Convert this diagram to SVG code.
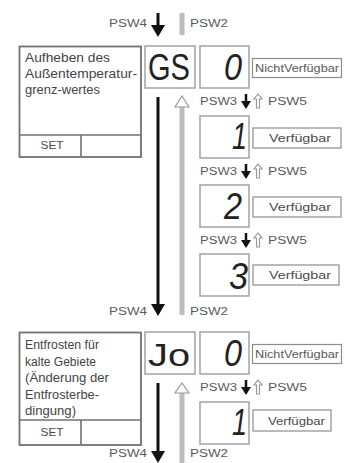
<svg xmlns="http://www.w3.org/2000/svg" width="345" height="463" viewBox="0 0 345 463">
<style>
.lbox{fill:#fff;stroke:#707070;stroke-width:1.8}
.ln{stroke:#707070;stroke-width:1.6}
.dbox{fill:#fff;stroke:#a8a8a8;stroke-width:1.6}
.vbox{fill:#fff;stroke:#8c8c8c;stroke-width:1.2}
.t{font-family:"Liberation Sans",Arial,sans-serif;fill:#444}
.desc{font-size:12.5px}
.sm{font-size:10px;fill:#5a5a5a}
.lab{font-size:10.5px;fill:#4a4a4a}
.seg{font-family:"Liberation Sans",Arial,sans-serif;font-size:37px;fill:#222}
.it{font-style:italic}
.blk{stroke:#111;stroke-width:3;fill:none}
.blks{stroke:#111;stroke-width:2.5;fill:none}
.gry{stroke:#bdbdbd;stroke-width:5;fill:none}
.hol{fill:#fff;stroke:#999;stroke-width:1.2}
</style>
<defs>
<marker id="bh" markerUnits="userSpaceOnUse" markerWidth="12" markerHeight="14" refX="9" refY="7" orient="auto">
<path d="M0,0 L12,7 L0,14 z" fill="#111"/>
</marker>
<marker id="bhs" markerUnits="userSpaceOnUse" markerWidth="8" markerHeight="10" refX="5.5" refY="5" orient="auto">
<path d="M0,0 L8,5 L0,10 z" fill="#111"/>
</marker>
</defs>

<g id="connectors">
<line class="blk" x1="158" y1="13" x2="158" y2="34" marker-end="url(#bh)"/>
<line class="gry" x1="182" y1="13" x2="182" y2="35"/>
<text class="t sm" x="147" y="27" text-anchor="end" textLength="38" lengthAdjust="spacingAndGlyphs">PSW4</text>
<text class="t sm" x="190" y="27" textLength="38" lengthAdjust="spacingAndGlyphs">PSW2</text>
<line class="blk" x1="158" y1="97" x2="158" y2="313" marker-end="url(#bh)"/>
<line class="gry" x1="182" y1="107" x2="182" y2="315"/>
<polygon class="hol" points="182,96 175,107 189,107"/>
<text class="t sm" x="147" y="315" text-anchor="end" textLength="38" lengthAdjust="spacingAndGlyphs">PSW4</text>
<text class="t sm" x="190" y="315" textLength="38" lengthAdjust="spacingAndGlyphs">PSW2</text>
<line class="blk" x1="158" y1="383" x2="158" y2="460" marker-end="url(#bh)"/>
<line class="gry" x1="182" y1="393" x2="182" y2="463"/>
<polygon class="hol" points="182,383 175,393 189,393"/>
<text class="t sm" x="147" y="457" text-anchor="end" textLength="38" lengthAdjust="spacingAndGlyphs">PSW4</text>
<text class="t sm" x="190" y="457" textLength="38" lengthAdjust="spacingAndGlyphs">PSW2</text>
<g id="row1">
<text class="t sm" x="200" y="104.5" textLength="37" lengthAdjust="spacingAndGlyphs">PSW3</text>
<line class="blks" x1="246" y1="94" x2="246" y2="106.5" marker-end="url(#bhs)"/>
<polygon class="hol" points="258,94 254,99 256.5,99 256.5,108 259.5,108 259.5,99 262,99"/>
<text class="t sm" x="268" y="104.5" textLength="39" lengthAdjust="spacingAndGlyphs">PSW5</text>
</g>
<g id="row2">
<text class="t sm" x="200" y="174.5" textLength="37" lengthAdjust="spacingAndGlyphs">PSW3</text>
<line class="blks" x1="246" y1="164" x2="246" y2="176.5" marker-end="url(#bhs)"/>
<polygon class="hol" points="258,164 254,169 256.5,169 256.5,178 259.5,178 259.5,169 262,169"/>
<text class="t sm" x="268" y="174.5" textLength="39" lengthAdjust="spacingAndGlyphs">PSW5</text>
</g>
<g id="row3">
<text class="t sm" x="200" y="243.5" textLength="37" lengthAdjust="spacingAndGlyphs">PSW3</text>
<line class="blks" x1="246" y1="233" x2="246" y2="245.5" marker-end="url(#bhs)"/>
<polygon class="hol" points="258,233 254,238 256.5,238 256.5,247 259.5,247 259.5,238 262,238"/>
<text class="t sm" x="268" y="243.5" textLength="39" lengthAdjust="spacingAndGlyphs">PSW5</text>
</g>
<g id="row4">
<text class="t sm" x="200" y="390.5" textLength="37" lengthAdjust="spacingAndGlyphs">PSW3</text>
<line class="blks" x1="246" y1="380" x2="246" y2="392.5" marker-end="url(#bhs)"/>
<polygon class="hol" points="258,380 254,385 256.5,385 256.5,394 259.5,394 259.5,385 262,385"/>
<text class="t sm" x="268" y="390.5" textLength="39" lengthAdjust="spacingAndGlyphs">PSW5</text>
</g>
</g>

<g id="descGS">
<rect class="lbox" x="19.5" y="46.5" width="121.5" height="110.5"/>
<line class="ln" x1="19.5" y1="135" x2="141" y2="135"/>
<line class="ln" x1="81" y1="135" x2="81" y2="157"/>
<text class="t desc" x="25" y="62" textLength="85" lengthAdjust="spacingAndGlyphs">Aufheben des</text>
<text class="t desc" x="25" y="78" textLength="112" lengthAdjust="spacingAndGlyphs">Außentemperatur-</text>
<text class="t desc" x="25" y="94" textLength="75" lengthAdjust="spacingAndGlyphs">grenz-wertes</text>
<text class="t lab" x="52" y="149" text-anchor="middle" textLength="23" lengthAdjust="spacingAndGlyphs">SET</text>
</g>

<g id="codeGS">
<rect class="dbox" x="145" y="46" width="50" height="42"/>
<text class="seg" x="148" y="80" textLength="42" lengthAdjust="spacingAndGlyphs">GS</text>
</g>

<g id="valGS0">
<rect class="dbox" x="200" y="46" width="49" height="42"/>
<text class="seg it" x="242" y="80" text-anchor="end" textLength="18" lengthAdjust="spacingAndGlyphs">0</text>
<rect class="vbox" x="252.5" y="58.5" width="89" height="19"/>
<text class="t sm" x="255" y="71.5" textLength="84" lengthAdjust="spacingAndGlyphs">NichtVerfügbar</text>
</g>

<g id="valGS1">
<rect class="dbox" x="200" y="116" width="49" height="42"/>
<text class="seg it" x="247" y="149" text-anchor="end" textLength="15" lengthAdjust="spacingAndGlyphs">1</text>
<rect class="vbox" x="253" y="128" width="88" height="20"/>
<text class="t lab" x="269" y="142" textLength="62" lengthAdjust="spacingAndGlyphs">Verfügbar</text>
</g>

<g id="valGS2">
<rect class="dbox" x="200" y="185" width="49" height="42"/>
<text class="seg it" x="242" y="219" text-anchor="end" textLength="18" lengthAdjust="spacingAndGlyphs">2</text>
<rect class="vbox" x="253" y="197" width="88" height="20"/>
<text class="t lab" x="269" y="211" textLength="62" lengthAdjust="spacingAndGlyphs">Verfügbar</text>
</g>

<g id="valGS3">
<rect class="dbox" x="200" y="254" width="49" height="42"/>
<text class="seg it" x="248" y="289" text-anchor="end" textLength="19" lengthAdjust="spacingAndGlyphs">3</text>
<rect class="vbox" x="253" y="265" width="86" height="20"/>
<text class="t lab" x="269" y="279" textLength="62" lengthAdjust="spacingAndGlyphs">Verfügbar</text>
</g>

<g id="descJo">
<rect class="lbox" x="19.5" y="332.5" width="121.5" height="112.5"/>
<line class="ln" x1="19.5" y1="420" x2="141" y2="420"/>
<line class="ln" x1="81" y1="420" x2="81" y2="445"/>
<text class="t desc" x="25" y="349" textLength="74" lengthAdjust="spacingAndGlyphs">Entfrosten für</text>
<text class="t desc" x="25" y="366" textLength="71" lengthAdjust="spacingAndGlyphs">kalte Gebiete</text>
<text class="t desc" x="25" y="382" textLength="84" lengthAdjust="spacingAndGlyphs">(Änderung der</text>
<text class="t desc" x="25" y="399" textLength="74" lengthAdjust="spacingAndGlyphs">Entfrosterbe-</text>
<text class="t desc" x="25" y="415" textLength="51" lengthAdjust="spacingAndGlyphs">dingung)</text>
<text class="t lab" x="52" y="436" text-anchor="middle" textLength="23" lengthAdjust="spacingAndGlyphs">SET</text>
</g>

<g id="codeJo">
<rect class="dbox" x="145" y="332" width="50" height="42"/>
<text class="seg" x="148" y="366" style="font-size:32px" textLength="42" lengthAdjust="spacingAndGlyphs">Jo</text>
</g>

<g id="valJo0">
<rect class="dbox" x="200" y="332" width="49" height="42"/>
<text class="seg it" x="242" y="366" text-anchor="end" textLength="18" lengthAdjust="spacingAndGlyphs">0</text>
<rect class="vbox" x="252.5" y="344.5" width="89" height="19"/>
<text class="t sm" x="255" y="357.5" textLength="84" lengthAdjust="spacingAndGlyphs">NichtVerfügbar</text>
</g>

<g id="valJo1">
<rect class="dbox" x="200" y="402" width="49" height="42"/>
<text class="seg it" x="247" y="435" text-anchor="end" textLength="15" lengthAdjust="spacingAndGlyphs">1</text>
<rect class="vbox" x="253" y="410" width="78" height="21"/>
<text class="t lab" x="268" y="424.5" textLength="57" lengthAdjust="spacingAndGlyphs">Verfügbar</text>
</g>
</svg>
